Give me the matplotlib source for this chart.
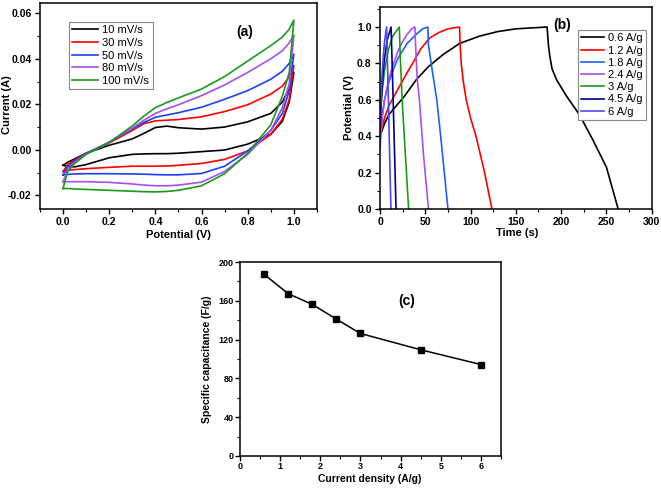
import numpy as np
import matplotlib
matplotlib.use("Agg")
from matplotlib import pyplot as plt
from matplotlib.ticker import MultipleLocator

plt.rcParams['font.family'] = ['Liberation Sans', 'DejaVu Sans']

## (a) Cyclic voltammetry - forward (upper) and reverse (lower) branches
cv_labels = ['10 mV/s', '30 mV/s', '50 mV/s', '80 mV/s', '100 mV/s']
cv_colors = ['#000000', '#ff0000', '#1f3fff', '#a64ff2', '#1a9a1a']
cv_v = [0.0, 0.02, 0.05, 0.1, 0.2, 0.3, 0.35, 0.4, 0.45, 0.5, 0.6, 0.7, 0.8, 0.9, 0.95, 0.98, 1.0]
cv_fwd = [
    [-0.0068, -0.0055, -0.004, -0.0015, 0.002, 0.0048, 0.0072, 0.0098, 0.0104, 0.0097, 0.0091, 0.0100, 0.0123, 0.0160, 0.021, 0.027, 0.034],
    [-0.0095, -0.0065, -0.0045, -0.0015, 0.003, 0.0085, 0.0115, 0.0127, 0.013, 0.0133, 0.0145, 0.0168, 0.0198, 0.0245, 0.028, 0.032, 0.037],
    [-0.011, -0.0075, -0.005, -0.0015, 0.0033, 0.0092, 0.012, 0.0143, 0.0153, 0.0163, 0.0187, 0.0222, 0.026, 0.031, 0.0345, 0.038, 0.042],
    [-0.014, -0.009, -0.0055, -0.0018, 0.0035, 0.0095, 0.013, 0.016, 0.018, 0.0198, 0.0238, 0.0285, 0.034, 0.040, 0.0435, 0.047, 0.0505],
    [-0.017, -0.0095, -0.006, -0.002, 0.0032, 0.0105, 0.0148, 0.0185, 0.0208, 0.0228, 0.0267, 0.0322, 0.039, 0.0458, 0.0495, 0.053, 0.057],
]
cv_rev = [
    [-0.0068, -0.0073, -0.0075, -0.0065, -0.0035, -0.002, -0.0018, -0.0017, -0.0017, -0.0015, -0.0008, -0.0001, 0.0025, 0.0068, 0.0125, 0.021, 0.034],
    [-0.0095, -0.009, -0.0087, -0.0083, -0.0077, -0.0072, -0.0072, -0.0072, -0.0071, -0.0068, -0.006, -0.0042, -0.0005, 0.0068, 0.0135, 0.022, 0.037],
    [-0.011, -0.0108, -0.0106, -0.0105, -0.0105, -0.0106, -0.0107, -0.0109, -0.011, -0.011, -0.0104, -0.0072, -0.0005, 0.0085, 0.016, 0.026, 0.042],
    [-0.014, -0.014, -0.014, -0.014, -0.0143, -0.015, -0.0155, -0.0158, -0.0158, -0.0155, -0.0142, -0.0095, -0.002, 0.0085, 0.0185, 0.029, 0.0505],
    [-0.017, -0.017, -0.0172, -0.0174, -0.0178, -0.0182, -0.0184, -0.0185, -0.0183, -0.0178, -0.0158, -0.0105, -0.0015, 0.011, 0.0235, 0.034, 0.057],
]

## (b) Galvanostatic charge / discharge
gcd_labels = ['0.6 A/g', '1.2 A/g', '1.8 A/g', '2.4 A/g', '3 A/g', '4.5 A/g', '6 A/g']
gcd_colors = ['#000000', '#ff0000', '#1f5fff', '#a64ff2', '#1a9a1a', '#00008c', '#4a4ae8']
gcd_t = [
    [0, 5, 10, 27, 40, 53, 70, 88, 110, 130, 150, 170, 184.5, 186, 187.5, 190, 195, 206, 220, 235, 250, 263],
    [0, 5, 10, 20, 30, 36, 45, 55, 65, 75, 87.8, 88.5, 89.7, 92, 95.2, 100, 106, 115.5, 123.6],
    [0, 2, 5, 10, 15, 20, 30, 40, 47, 52.8, 53.5, 56.5, 62.7, 67, 71, 75],
    [0, 2, 5, 10, 15, 20, 25, 30, 35, 38.5, 39.5, 41, 43.5, 48, 53.5],
    [0, 2, 5, 9, 14, 21.3, 22.5, 25, 28, 31.6],
    [0, 1.5, 3, 5, 8, 12.2, 13, 14.5, 16, 17.7],
    [0, 1, 2, 3.5, 5, 7.3, 8, 9.5, 11, 12.1],
]
gcd_v = [
    [0.40, 0.47, 0.52, 0.62, 0.71, 0.78, 0.85, 0.91, 0.95, 0.975, 0.99, 0.996, 1.0, 0.9, 0.84, 0.77, 0.71, 0.62, 0.52, 0.38, 0.23, 0.0],
    [0.40, 0.50, 0.57, 0.66, 0.75, 0.80, 0.88, 0.94, 0.97, 0.99, 1.0, 0.9, 0.8, 0.7, 0.6, 0.5, 0.4, 0.2, 0.0],
    [0.38, 0.50, 0.60, 0.70, 0.77, 0.83, 0.91, 0.96, 0.99, 1.0, 0.9, 0.8, 0.6, 0.4, 0.2, 0.0],
    [0.33, 0.48, 0.60, 0.72, 0.80, 0.87, 0.92, 0.96, 0.99, 1.0, 0.88, 0.72, 0.6, 0.3, 0.0],
    [0.50, 0.63, 0.76, 0.87, 0.95, 1.0, 0.82, 0.55, 0.30, 0.0],
    [0.42, 0.60, 0.72, 0.83, 0.93, 1.0, 0.87, 0.60, 0.32, 0.0],
    [0.45, 0.60, 0.72, 0.83, 0.92, 1.0, 0.85, 0.55, 0.22, 0.0],
]

## (c) Specific capacitance vs current density
current_density = [0.6, 1.2, 1.8, 2.4, 3, 4.5, 6]
capacitance = [187.3, 167.3, 156.3, 141.1, 126.3, 109.5, 94.3]


def style_axes(ax, fs=7.5, pad=2.5):
    for sp in ax.spines.values():
        sp.set_linewidth(1.1)
    ax.tick_params(which='major', direction='out', length=3.5, width=1.0, labelsize=fs, pad=pad)
    ax.tick_params(which='minor', direction='out', length=2, width=0.8)
    for lab in ax.get_xticklabels() + ax.get_yticklabels():
        lab.set_fontweight('bold')


def style_legend(leg):
    leg.get_frame().set_edgecolor('#888888')
    leg.get_frame().set_linewidth(0.8)


fig = plt.figure(figsize=(6.61, 4.90), dpi=100)

## Panel (a)
ax1 = fig.add_axes([0.0605, 0.5735, 0.419, 0.4204])
for i in range(len(cv_labels)):
    v = cv_v + cv_v[::-1]
    cur = cv_fwd[i] + cv_rev[i][::-1]
    ax1.plot(v, cur, color=cv_colors[i], lw=1.2, label=cv_labels[i])
ax1.set_xlim(-0.1, 1.1)
ax1.set_ylim(-0.026, 0.0645)
ax1.xaxis.set_minor_locator(MultipleLocator(0.1))
ax1.yaxis.set_minor_locator(MultipleLocator(0.01))
ax1.set_xticks([0, 0.2, 0.4, 0.6, 0.8, 1.0])
ax1.set_xticklabels(['0.0', '0.2', '0.4', '0.6', '0.8', '1.0'])
ax1.set_yticks([-0.02, 0.0, 0.02, 0.04, 0.06])
ax1.set_yticklabels(['-0.02', '0.00', '0.02', '0.04', '0.06'])
style_axes(ax1)
leg = ax1.legend(loc='upper left', bbox_to_anchor=(0.105, 0.908), borderaxespad=0,
                 fontsize=8, handlelength=2.3, labelspacing=0.24, handletextpad=0.4,
                 borderpad=0.3, fancybox=False, framealpha=1)
style_legend(leg)
ax1.text(0.74, 0.86, '(a)', transform=ax1.transAxes, ha='center', va='center',
         fontsize=10, fontweight='bold')

## Panel (b)
ax2 = fig.add_axes([0.5749, 0.5735, 0.411, 0.4122])
for i in range(len(gcd_labels)):
    ax2.plot(gcd_t[i], gcd_v[i], color=gcd_colors[i], lw=1.2, label=gcd_labels[i])
ax2.set_xlim(0, 300)
ax2.set_ylim(0, 1.11)
ax2.xaxis.set_major_locator(MultipleLocator(50))
ax2.xaxis.set_minor_locator(MultipleLocator(25))
ax2.yaxis.set_minor_locator(MultipleLocator(0.1))
ax2.set_yticks([0, 0.2, 0.4, 0.6, 0.8, 1.0])
ax2.set_yticklabels(['0.0', '0.2', '0.4', '0.6', '0.8', '1.0'])
style_axes(ax2)
leg = ax2.legend(loc='upper left', bbox_to_anchor=(0.729, 0.886), borderaxespad=0,
                 fontsize=8, handlelength=2.0, labelspacing=0.2, handletextpad=0.35,
                 borderpad=0.3, fancybox=False, framealpha=1)
style_legend(leg)
ax2.text(0.67, 0.91, '(b)', transform=ax2.transAxes, ha='center', va='center',
         fontsize=10, fontweight='bold')

## Panel (c)
ax3 = fig.add_axes([0.3631, 0.0694, 0.3949, 0.3959])
ax3.plot(current_density, capacitance, color='black', lw=1.1, marker='s', ms=4)
ax3.set_xlim(0, 6.5)
ax3.set_ylim(0, 200)
ax3.xaxis.set_major_locator(MultipleLocator(1))
ax3.xaxis.set_minor_locator(MultipleLocator(0.5))
ax3.yaxis.set_major_locator(MultipleLocator(40))
ax3.yaxis.set_minor_locator(MultipleLocator(20))
style_axes(ax3, fs=6.5, pad=1.0)
ax3.text(0.64, 0.80, '(c)', transform=ax3.transAxes, ha='center', va='center',
         fontsize=10, fontweight='bold')

## Axis labels (placed in figure pixels)
W, H = 661.0, 490.0
def ftext(x, y, s, rot=0, fs=8):
    fig.text(x / W, 1 - y / H, s, rotation=rot, ha='center', va='center',
             fontsize=fs, fontweight='bold')

ftext(178, 235, 'Potential (V)')
ftext(7, 105, 'Current (A)', rot=90)
ftext(517, 233, 'Time (s)')
ftext(349, 108, 'Potential (V)', rot=90)
ftext(370, 479, 'Current density (A/g)', fs=7.5)
ftext(207, 359, 'Specific capacitance (F/g)', rot=90, fs=7.5)

fig.savefig('out.png', dpi=100)
